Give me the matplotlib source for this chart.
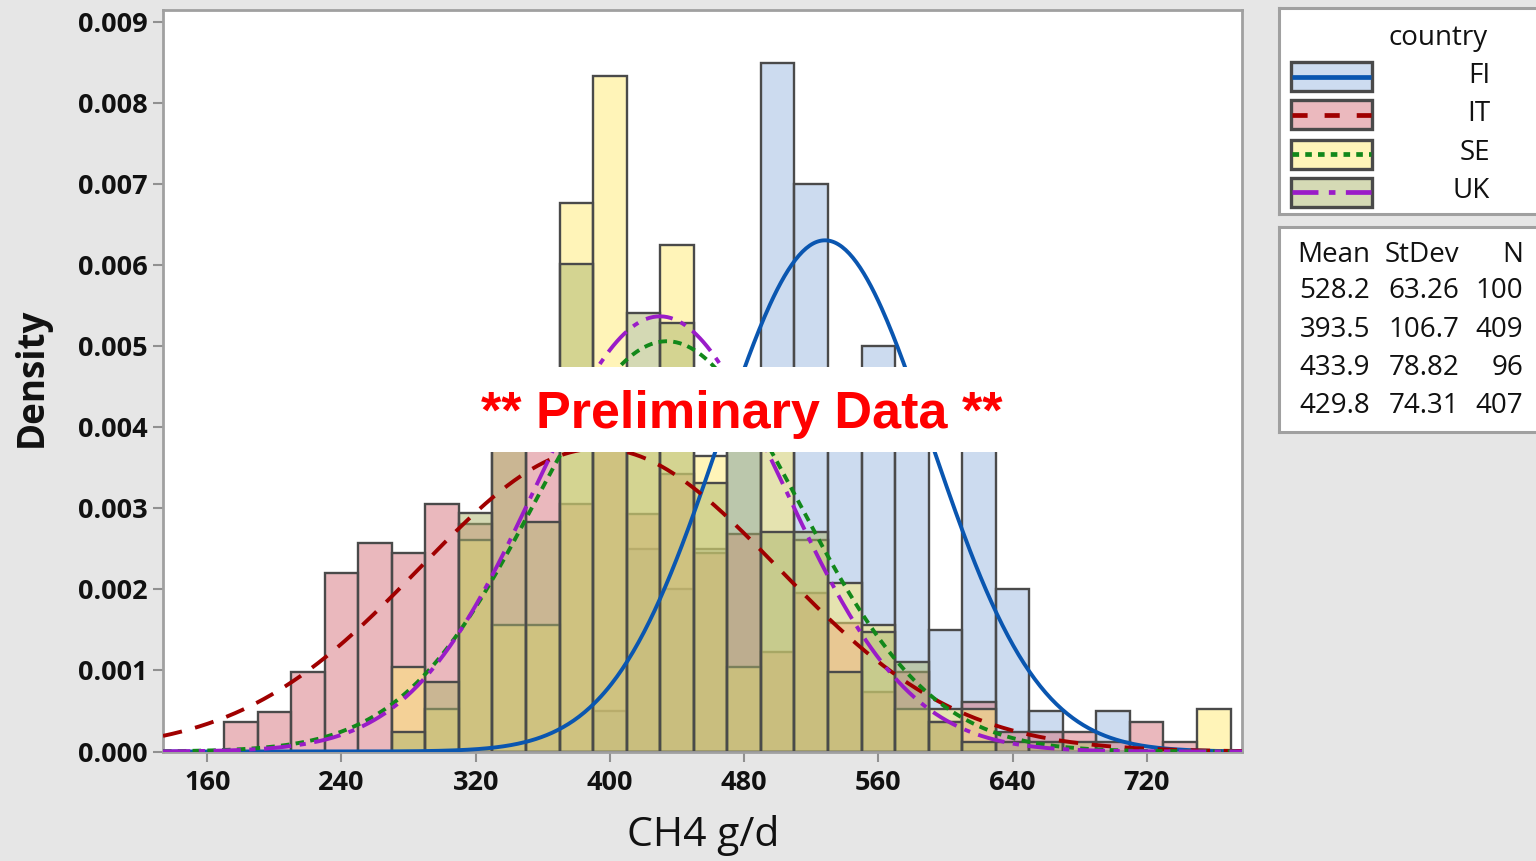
import numpy as np
import matplotlib
matplotlib.use("Agg")
import matplotlib.pyplot as plt
from matplotlib.patches import Rectangle

# ---------------- data ----------------
countries = ["FI", "IT", "SE", "UK"]
bin_edges = np.arange(170, 771, 20)          # 30 bins of width 20
fi_counts = [0,0,0,0,0,0,0,0,0,0,0,1,5,4,5,9,17,14,9,10,8,3,9,4,1,0,1,0,0,0]
it_counts = [3,4,8,18,21,20,25,23,33,32,25,31,24,28,20,22,10,16,13,6,8,3,5,2,2,2,1,3,1,0]
se_counts = [0,0,0,0,0,2,1,5,3,3,13,16,8,12,7,2,8,5,4,3,1,1,1,0,0,0,0,0,0,1]
uk_counts = [0,0,0,0,0,2,7,24,35,23,49,37,44,43,27,36,22,22,8,12,9,3,1,1,1,1,0,0,0,0]
means = [528.2, 393.5, 433.9, 429.8]
stdevs = [63.26, 106.7, 78.82, 74.31]
ns = [100, 409, 96, 407]
mean_labels = ["528.2", "393.5", "433.9", "429.8"]
sd_labels = ["63.26", "106.7", "78.82", "74.31"]
n_labels = ["100", "409", "96", "407"]
x_ticks = [160, 240, 320, 400, 480, 560, 640, 720]
y_ticks = [0.000, 0.001, 0.002, 0.003, 0.004, 0.005, 0.006, 0.007, 0.008, 0.009]

counts = [fi_counts, it_counts, se_counts, uk_counts]

# ---------------- style ----------------
W, H = 1536, 861
bg = "#e6e6e6"
fill_base = ["#9bb9e1", "#d7737d", "#ffeb73", "#abb56b"]
alpha = 0.5
line_cols = ["#0a56b0", "#a00000", "#12881a", "#9a1cc8"]
line_dash = [None, (5, 3.5), (2.2, 1.6), (7, 2.2, 1.6, 2.2)]
legend_dash = [None, (3.2, 3.6), (1.4, 1.3), (5.5, 2.2, 1.4, 2.2)]
edge_col = "#4a4a4a"
font = "Open Sans"

def fx(px):
    return px / W

def fy(py):
    return 1 - py / H

fig = plt.figure(figsize=(W / 100, H / 100), dpi=100, facecolor=bg)
ax = fig.add_axes([fx(163), fy(751.5), (1242 - 163) / W, (751.5 - 10) / H])
ax.set_facecolor("white")

width = bin_edges[1] - bin_edges[0]
lefts = bin_edges[:-1]
for i, c in enumerate(countries):
    dens = np.array(counts[i]) / (ns[i] * width)
    m = dens > 0
    ax.bar(lefts[m], dens[m], width=width, align="edge",
           color=matplotlib.colors.to_rgba(fill_base[i], alpha),
           edgecolor=edge_col, linewidth=1.7, zorder=2 + i * 0.1)

xs = np.linspace(133.6, 776.8, 600)
for i, c in enumerate(countries):
    pdf = np.exp(-0.5 * ((xs - means[i]) / stdevs[i]) ** 2) / (stdevs[i] * np.sqrt(2 * np.pi))
    ln, = ax.plot(xs, pdf, color=line_cols[i], lw=2.8, zorder=5)
    if line_dash[i] is not None:
        ln.set_dashes(line_dash[i])

ax.set_xlim(133.6, 776.8)
ax.set_ylim(0, 0.009148)
ax.set_xticks(x_ticks)
ax.set_yticks(y_ticks)
ax.set_yticklabels([f"{v:.3f}" for v in y_ticks])
for sp in ax.spines.values():
    sp.set_color("#a0a0a0")
    sp.set_linewidth(2)
ax.tick_params(axis="both", length=7, width=1.5, color="#909090", pad=4,
               labelsize=19.5, labelcolor="#111111")
for lab in ax.get_xticklabels() + ax.get_yticklabels():
    lab.set_fontfamily(font)
    lab.set_fontweight("bold")
ax.tick_params(axis="x", pad=6)

fig.text(fx(32), fy(377), "Density", rotation=90, ha="center", va="center",
         fontsize=26.5, family=font, fontweight="bold", color="#111111")
fig.text(fx(703), fy(836), "CH4 g/d", ha="center", va="center",
         fontsize=29.5, family=font, color="#111111")

# preliminary banner
fig.patches.append(Rectangle((fx(455), fy(452)), (1033 - 455) / W, (452 - 367) / H,
                             transform=fig.transFigure, facecolor="white",
                             edgecolor="none", zorder=10))
fig.text(fx(741.5), fy(428), "** Preliminary Data **", ha="center", va="baseline",
         fontsize=37.5, family="Liberation Sans", fontweight="bold",
         color="#ff0000", zorder=11)

# legend panel
def panel(top, bottom):
    pax = fig.add_axes([fx(1279), fy(bottom), (1545 - 1279) / W, (bottom - top) / H])
    pax.set_xlim(1279, 1545)
    pax.set_ylim(bottom, top)
    pax.set_xticks([])
    pax.set_yticks([])
    pax.set_facecolor("white")
    for sp in pax.spines.values():
        sp.set_color("#a0a0a0")
        sp.set_linewidth(2.2)
    return pax

lax = panel(8, 214)
lax.text(1438, 38, "country", ha="center", va="center", fontsize=20, family=font,
         color="#111111")
rows_y = [77, 115, 154, 192]
for i, c in enumerate(countries):
    rgba = matplotlib.colors.to_rgba(fill_base[i], alpha)
    solid = tuple(rgba[k] * alpha + (1 - alpha) for k in range(3))
    lax.add_patch(Rectangle((1291, rows_y[i] - 14.5), 81, 29, facecolor=solid,
                            edgecolor=edge_col, linewidth=2.4))
    ln, = lax.plot([1292, 1371], [rows_y[i], rows_y[i]], color=line_cols[i], lw=3.4,
                   solid_capstyle="butt", dash_capstyle="butt")
    if legend_dash[i] is not None:
        ln.set_dashes(legend_dash[i])
    lax.text(1490, rows_y[i] - 1, c, ha="right", va="center", fontsize=20,
             family=font, color="#111111")

sax = panel(227, 432)
cols_x = [1370, 1459, 1523]
for x, h in zip(cols_x, ["Mean", "StDev", "N"]):
    sax.text(x, 255, h, ha="right", va="center", fontsize=20, family=font, color="#111111")
stat_rows = [291, 330, 368, 406]
for i in range(4):
    for x, v in zip(cols_x, [mean_labels[i], sd_labels[i], n_labels[i]]):
        sax.text(x, stat_rows[i], v, ha="right", va="center", fontsize=20,
                 family=font, color="#111111")

fig.savefig("out.png", dpi=100, facecolor=bg)
